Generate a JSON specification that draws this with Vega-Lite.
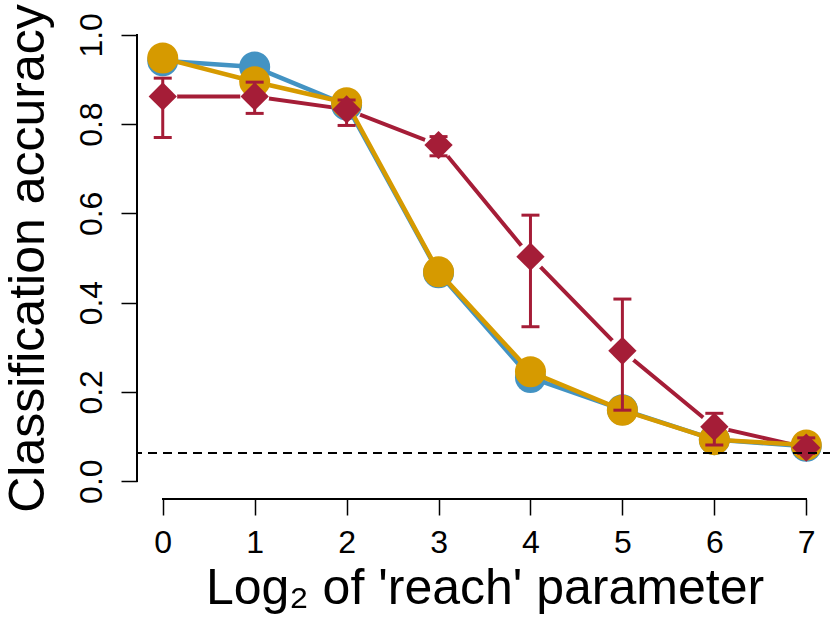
{
  "$schema": "https://vega.github.io/schema/vega-lite/v6.json",
  "width": 695,
  "height": 482,
  "autosize": {"type": "none"},
  "padding": {"left": 137, "top": 17, "right": 0, "bottom": 118},
  "background": "white",
  "config": {
    "view": {"stroke": null},
    "font": "Liberation Sans",
    "axis": {"grid": false, "domain": false, "tickColor": "black", "tickWidth": 1.5, "tickSize": 16, "labelColor": "black", "titleColor": "black", "labelFont": "Liberation Sans", "titleFont": "Liberation Sans", "labelFontSize": 32, "titleFontSize": 50, "titleFontWeight": "normal", "labelFlush": false, "labelOverlap": false}
  },
  "datasets": {
    "acc": [
      {"reach": 0, "model": "Model A", "acc": 0.942},
      {"reach": 1, "model": "Model A", "acc": 0.928},
      {"reach": 2, "model": "Model A", "acc": 0.843},
      {"reach": 3, "model": "Model A", "acc": 0.467},
      {"reach": 4, "model": "Model A", "acc": 0.232},
      {"reach": 5, "model": "Model A", "acc": 0.160},
      {"reach": 6, "model": "Model A", "acc": 0.093},
      {"reach": 7, "model": "Model A", "acc": 0.078},
      {"reach": 0, "model": "Model B", "acc": 0.948},
      {"reach": 1, "model": "Model B", "acc": 0.895},
      {"reach": 2, "model": "Model B", "acc": 0.848},
      {"reach": 3, "model": "Model B", "acc": 0.469},
      {"reach": 4, "model": "Model B", "acc": 0.245},
      {"reach": 5, "model": "Model B", "acc": 0.159},
      {"reach": 6, "model": "Model B", "acc": 0.093},
      {"reach": 7, "model": "Model B", "acc": 0.081},
      {"reach": 0, "model": "Model C", "acc": 0.862, "lo": 0.770, "hi": 0.903},
      {"reach": 1, "model": "Model C", "acc": 0.862, "lo": 0.824, "hi": 0.894},
      {"reach": 2, "model": "Model C", "acc": 0.833, "lo": 0.797, "hi": 0.854},
      {"reach": 3, "model": "Model C", "acc": 0.753, "lo": 0.729, "hi": 0.772},
      {"reach": 4, "model": "Model C", "acc": 0.503, "lo": 0.346, "hi": 0.596},
      {"reach": 5, "model": "Model C", "acc": 0.292, "lo": 0.159, "hi": 0.408},
      {"reach": 6, "model": "Model C", "acc": 0.122, "lo": 0.081, "hi": 0.152},
      {"reach": 7, "model": "Model C", "acc": 0.075, "lo": 0.062, "hi": 0.097}
    ]
  },
  "data": {"name": "acc"},
  "layer": [
    {
      "transform": [{"filter": "datum.model === 'Model C'"}],
      "mark": {"type": "line", "color": "#A51D37", "strokeWidth": 4},
      "encoding": {
        "x": {"field": "reach", "type": "quantitative", "scale": {"domain": [-0.28, 7.28], "nice": false, "zero": false},
          "axis": {"title": "Log₂ of 'reach' parameter", "values": [0, 1, 2, 3, 4, 5, 6, 7], "format": "d", "labelPadding": 12, "titlePadding": 5}},
        "y": {"field": "acc", "type": "quantitative", "scale": {"domain": [-0.04, 1.04], "nice": false, "zero": false},
          "axis": {"title": "Classification accuracy", "values": [0, 0.2, 0.4, 0.6, 0.8, 1.0], "format": ".1f", "labelAngle": -90, "labelAlign": "center", "labelBaseline": "alphabetic", "labelPadding": 20, "titlePadding": 22}}
      }
    },
    {
      "transform": [{"filter": "datum.model === 'Model C'"}],
      "mark": {"type": "point", "shape": "circle", "filled": true, "color": "white", "opacity": 1, "size": 841},
      "encoding": {
        "x": {"field": "reach", "type": "quantitative"},
        "y": {"field": "acc", "type": "quantitative"}
      }
    },
    {
      "transform": [{"filter": "datum.model === 'Model A'"}],
      "mark": {"type": "line", "color": "#4393C3", "strokeWidth": 4.5},
      "encoding": {
        "x": {"field": "reach", "type": "quantitative"},
        "y": {"field": "acc", "type": "quantitative"}
      }
    },
    {
      "transform": [{"filter": "datum.model === 'Model A'"}],
      "mark": {"type": "point", "shape": "circle", "filled": true, "color": "#4393C3", "opacity": 1, "size": 961},
      "encoding": {
        "x": {"field": "reach", "type": "quantitative"},
        "y": {"field": "acc", "type": "quantitative"}
      }
    },
    {
      "transform": [{"filter": "datum.model === 'Model B'"}],
      "mark": {"type": "line", "color": "#D69A00", "strokeWidth": 4.5},
      "encoding": {
        "x": {"field": "reach", "type": "quantitative"},
        "y": {"field": "acc", "type": "quantitative"}
      }
    },
    {
      "transform": [{"filter": "datum.model === 'Model B'"}],
      "mark": {"type": "point", "shape": "circle", "filled": true, "color": "#D69A00", "opacity": 1, "size": 961},
      "encoding": {
        "x": {"field": "reach", "type": "quantitative"},
        "y": {"field": "acc", "type": "quantitative"}
      }
    },
    {
      "transform": [{"filter": "datum.model === 'Model C'"}],
      "mark": {"type": "rule", "color": "#A51D37", "strokeWidth": 3},
      "encoding": {
        "x": {"field": "reach", "type": "quantitative"},
        "y": {"field": "lo", "type": "quantitative"},
        "y2": {"field": "hi"}
      }
    },
    {
      "transform": [{"filter": "datum.model === 'Model C'"}],
      "mark": {"type": "tick", "orient": "horizontal", "color": "#A51D37", "size": 18, "thickness": 3, "opacity": 1},
      "encoding": {
        "x": {"field": "reach", "type": "quantitative"},
        "y": {"field": "lo", "type": "quantitative"}
      }
    },
    {
      "transform": [{"filter": "datum.model === 'Model C'"}],
      "mark": {"type": "tick", "orient": "horizontal", "color": "#A51D37", "size": 18, "thickness": 3, "opacity": 1},
      "encoding": {
        "x": {"field": "reach", "type": "quantitative"},
        "y": {"field": "hi", "type": "quantitative"}
      }
    },
    {
      "transform": [{"filter": "datum.model === 'Model C'"}],
      "mark": {"type": "point", "shape": "diamond", "filled": true, "color": "#A51D37", "opacity": 1, "size": 800},
      "encoding": {
        "x": {"field": "reach", "type": "quantitative"},
        "y": {"field": "acc", "type": "quantitative"}
      }
    },
    {
      "mark": {"type": "rule", "color": "black", "strokeWidth": 1.5, "strokeDash": [9, 6]},
      "encoding": {
        "y": {"datum": 0.0625, "type": "quantitative"}
      }
    },
    {
      "mark": {"type": "rule", "color": "black", "strokeWidth": 1.5},
      "encoding": {
        "x": {"datum": -0.28, "type": "quantitative"},
        "y": {"datum": 0, "type": "quantitative"},
        "y2": {"datum": 1}
      }
    },
    {
      "mark": {"type": "rule", "color": "black", "strokeWidth": 1.5},
      "encoding": {
        "x": {"datum": 0, "type": "quantitative"},
        "x2": {"datum": 7},
        "y": {"datum": -0.04, "type": "quantitative"}
      }
    }
  ]
}
